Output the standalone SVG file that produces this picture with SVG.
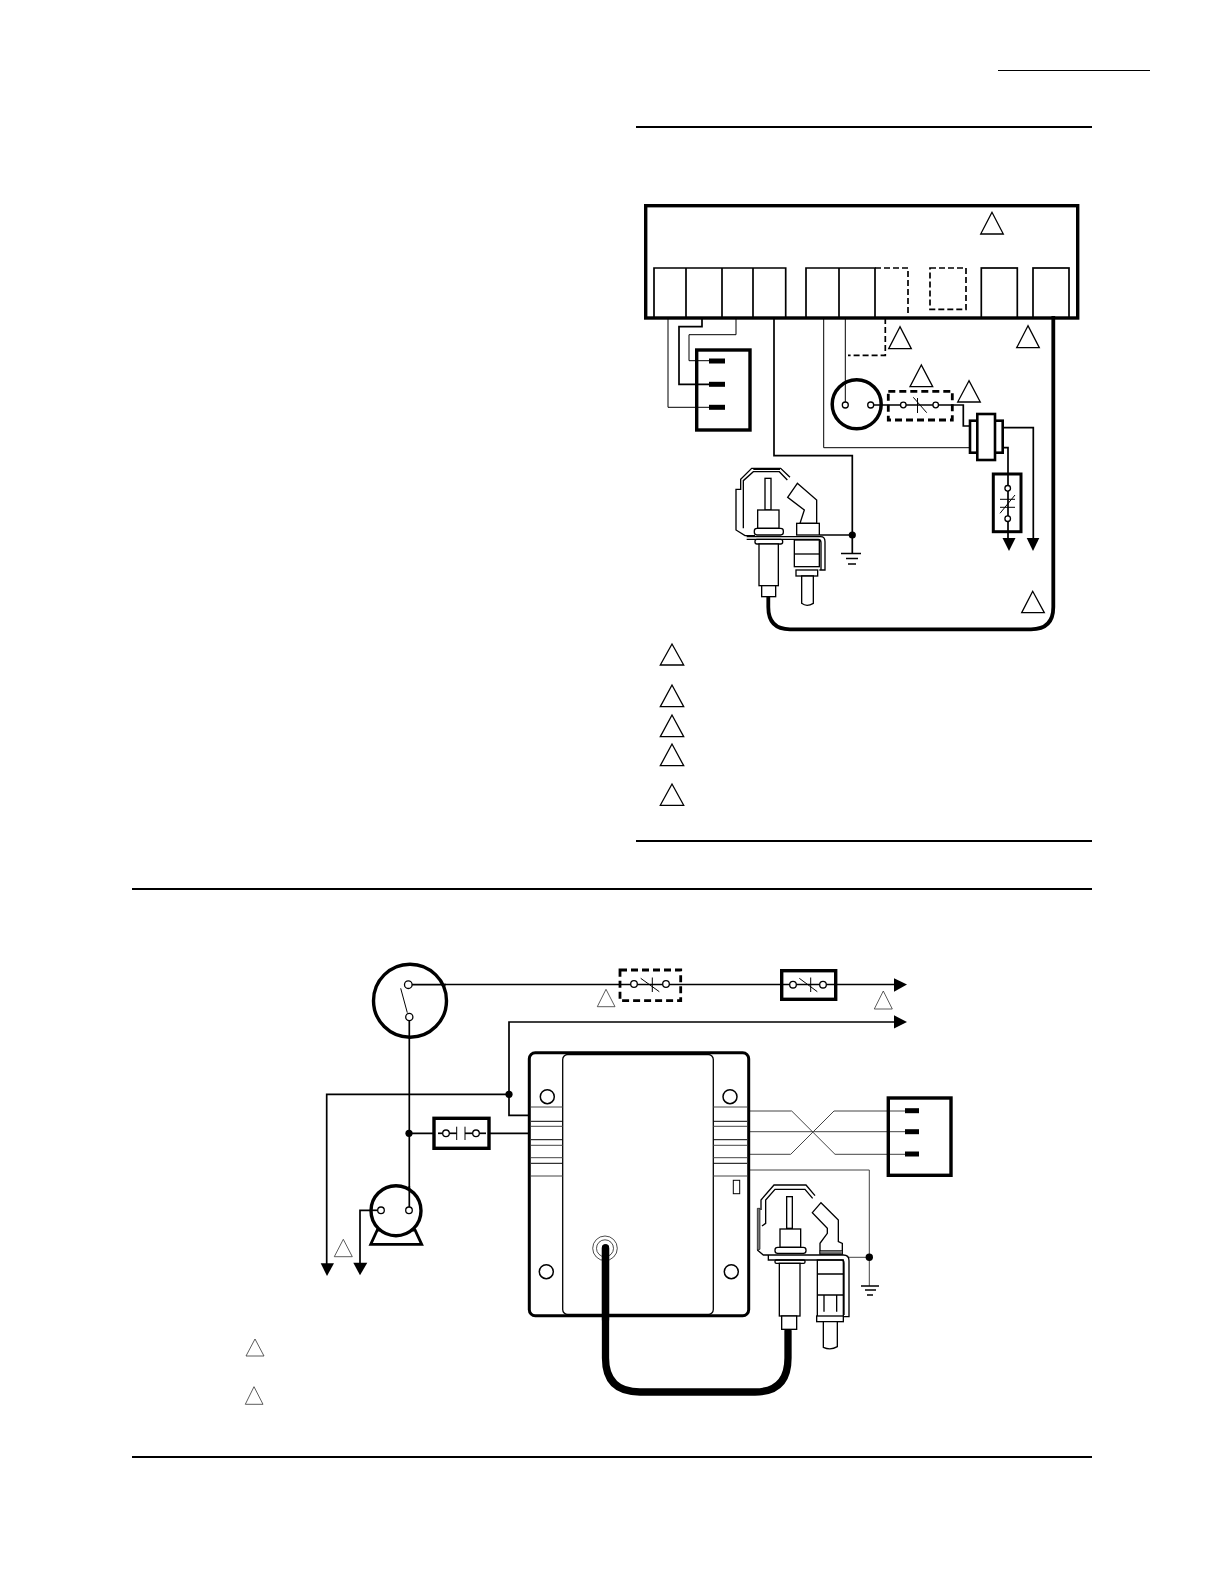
<svg xmlns="http://www.w3.org/2000/svg" width="1224" height="1584" viewBox="0 0 1224 1584">
<style>
.s{fill:none;stroke:#000;stroke-linejoin:miter}
.w{fill:#fff;stroke:#000}
.t{stroke-width:1}
.m{stroke-width:1.7}
.b{stroke-width:3.4}
.g{stroke:#444;stroke-width:1}
.d{stroke-width:2.8;stroke-dasharray:7 4}
.tri{fill:#fff;stroke:#000;stroke-width:1.3}
.tg{fill:#fff;stroke:#333;stroke-width:.8}
.c{fill:#fff;stroke:#000;stroke-width:1.3}
.k{fill:#000;stroke:none}
.z{fill:#fff;stroke:#000;stroke-width:4}
.zl{fill:none;stroke:#000;stroke-width:4}
.zg{fill:#777;stroke:#000;stroke-width:2}
</style>

<g id="page-rules">
<line class="s t" x1="998" y1="70.5" x2="1150" y2="70.5"/>
<line class="s" stroke-width="2" x1="636" y1="127" x2="1092" y2="127"/>
<line class="s" stroke-width="2" x1="636" y1="841" x2="1092" y2="841"/>
<line class="s" stroke-width="2" x1="132" y1="889" x2="1092" y2="889"/>
<line class="s" stroke-width="2" x1="132" y1="1457" x2="1092" y2="1457"/>
</g>

<!-- top diagram connectors -->
<g id="connectors-top">
<path class="s t" d="M668 318V407.3H709"/>
<path class="s m" d="M702 318V326.7H679V384.3H709"/>
<path class="s t" d="M736 318V334.7H689V360.7H709"/>
<path class="s m" d="M774 318V455.7H852.3V553.5"/>
<path class="s t" d="M823.7 318V447.7H972"/>
<path class="s t" d="M845.3 318V405"/>
<path class="s m" stroke-dasharray="6 3" d="M885.3 318V355.3H848"/>
<path class="s m" d="M870.7 405H963.3V426H972"/>
<path class="s m" d="M1001 427.7H1033.3V540"/>
<path class="s m" d="M1001 447.7H1008V540"/>
<path class="s" stroke-width="3.8" d="M1053.3 316V607Q1053.3 629.3 1031 629.3H790Q768.3 629.3 768.3 607V596"/>
<path class="s m" d="M820 535H852.3"/>
<polygon class="k" points="1026.7,538 1039.3,538 1033,551"/>
<polygon class="k" points="1002.5,538 1015.5,538 1009,551"/>
<circle class="k" cx="852.3" cy="535" r="3.6"/>
</g>

<g id="control-top">
<rect class="s b" x="645.7" y="205.7" width="432" height="112.3"/>
<path class="s m" d="M654 318V268H785.7V318M686 268V318M722 268V318M753 268V318M806 318V268H875V318M839 268V318"/>
<path class="s m" stroke-dasharray="6 3" d="M875 268H908V316"/>
<rect class="s m" stroke-dasharray="6 3" x="930" y="268" width="36" height="41.3"/>
<rect class="s m" x="981.3" y="268" width="36" height="50"/>
<rect class="s m" x="1033" y="268" width="36" height="50"/>
</g>

<g id="connector-plug-top">
<rect class="s b" x="696.7" y="350" width="53.3" height="80"/>
<rect class="k" x="709" y="358.5" width="16" height="5"/>
<rect class="k" x="709" y="381.8" width="16" height="5"/>
<rect class="k" x="709" y="404.8" width="16" height="5"/>
</g>

<g id="switch-circle-top">
<circle class="s" stroke-width="3.5" cx="856.7" cy="404.3" r="24.5"/>
<circle class="c" cx="845.3" cy="405" r="3"/>
<circle class="c" cx="870.7" cy="405" r="3"/>
</g>

<g id="limit-dashed-top">
<rect class="s d" x="888.3" y="391.3" width="64" height="28.7"/>
<circle class="c" cx="903.3" cy="405" r="2.8"/>
<circle class="c" cx="935.7" cy="405" r="2.8"/>
<line class="s t" x1="913.3" y1="397.3" x2="926.7" y2="412.7"/>
<line class="s t" x1="917.5" y1="398" x2="917.5" y2="413"/>
</g>

<g id="relay-top">
<rect class="w" stroke-width="2.6" x="970" y="420.7" width="32.7" height="32"/>
<rect class="w" stroke-width="2.6" x="977.3" y="414" width="17.7" height="46"/>
</g>

<g id="limit-top">
<rect class="s" stroke-width="3" x="993.3" y="474" width="27.7" height="57.7"/>
<circle class="c" cx="1007.7" cy="488.3" r="2.8"/>
<circle class="c" cx="1007.7" cy="518.7" r="2.8"/>
<path class="s t" d="M1000 499.3H1015M1000 507.3H1015M1000 513.3L1015 495"/>
</g>

<g id="pilot-top" transform="translate(710 420) scale(.33333)">
<path class="zl" d="M240 172L212 145H125L92 178V208H78V330L105 347H135M232 180L208 155H130L100 182V325"/>
<path class="zl" stroke="#888" d="M130 148H210"/>
<rect class="z" x="165" y="175" width="18" height="95"/>
<rect class="z" x="143" y="270" width="64" height="55"/>
<rect class="z" x="133" y="325" width="87" height="20" rx="8"/>
<rect class="z" x="135" y="358" width="83" height="14" rx="6"/>
<rect class="z" x="147" y="372" width="58" height="125"/>
<rect class="z" x="155" y="497" width="42" height="33"/>
<path class="zl" d="M110 350H332Q345 350 345 365V450H328M110 358H325Q333 358 333 368V448"/>
<path class="z" d="M262 190L233 232L283 270L270 310H320V240Z"/>
<rect class="z" x="260" y="310" width="68" height="35"/>
<rect class="z" x="253" y="360" width="75" height="80"/>
<line class="zl" x1="253" y1="402" x2="328" y2="402"/>
<rect class="z" x="258" y="450" width="65" height="18"/>
<path class="z" d="M275 468V550Q290 562 310 550V468Z"/>
</g>

<g id="ground-top">
<path class="s m" d="M841 553.5H861M846 558.5H858M848 564H856"/>
</g>

<g id="flags-top">
<polygon class="tri" points="992,212.3 980.7,234 1003.3,234"/>
<polygon class="tri" points="900,326.7 888.7,348.7 911.3,348.7"/>
<polygon class="tri" points="1028,325.7 1016.7,347.7 1039.3,347.7"/>
<polygon class="tri" points="921.3,365 910,386.7 932.7,386.7"/>
<polygon class="tri" points="969,380.7 957.7,402 980.3,402"/>
<polygon class="tri" points="1032.7,591.3 1021.7,612.7 1044.3,612.7"/>
</g>

<g id="legend-top">
<polygon class="tri" points="672,644 660.3,665 683.7,665"/>
<polygon class="tri" points="672,685 660.3,706.7 683.7,706.7"/>
<polygon class="tri" points="672,715 660.3,736.7 683.7,736.7"/>
<polygon class="tri" points="672,744 660.3,765.7 683.7,765.7"/>
<polygon class="tri" points="672,784 660.3,805.3 683.7,805.3"/>
</g>

<!-- bottom diagram connectors -->
<g id="connectors-bottom">
<path class="s m" d="M408.3 984.5H896"/>
<path class="s m" d="M528.3 1115.3H509V1022H896"/>
<path class="s m" d="M509 1094.3H326.7V1265"/>
<path class="s m" d="M409.3 1017V1210.3"/>
<path class="s m" d="M381 1210.3H360V1264"/>
<path class="s m" d="M409 1133.3H456.7M465 1133.3H528.3"/>
<path class="s g" d="M750 1111H791.7L835 1154.3H905M750 1131.7H905M750 1154.3H790.7L834 1111H905M750 1170H869.3V1286"/>
<path class="s g" d="M848 1257.3H869.3"/>
<path class="s" stroke-width="7.3" stroke-linecap="round" d="M605.5 1248V1358Q605.5 1392 640 1392H755Q788 1392 788 1358V1331"/>
<polygon class="k" points="894,978.3 907,984.5 894,991.7"/>
<polygon class="k" points="894,1015.3 907,1022 894,1028.5"/>
<polygon class="k" points="320.7,1263.3 334,1263.3 327,1276"/>
<polygon class="k" points="353.3,1262.7 367.3,1262.7 360,1275.3"/>
<circle class="k" cx="509" cy="1094.3" r="3.6"/>
<circle class="k" cx="409" cy="1133.3" r="3.6"/>
<circle class="k" cx="869.3" cy="1257.3" r="3.7"/>
</g>

<g id="pressure-switch">
<circle class="w" stroke-width="3.4" cx="410" cy="1000.7" r="36.5"/>
<line class="s" stroke-width="1.7" x1="408.3" y1="984.7" x2="446" y2="984.7"/>
<line class="s m" x1="409.3" y1="1017" x2="409.3" y2="1038"/>
<line class="s t" x1="400.7" y1="988.3" x2="407.3" y2="1012.7"/>
<circle class="c" cx="408.3" cy="984.7" r="3.8"/>
<circle class="c" cx="409.3" cy="1017" r="3.6"/>
</g>

<g id="limit-dashed-bottom">
<rect class="s d" x="620" y="970" width="60.7" height="30.7"/>
<circle class="c" cx="634" cy="984" r="3.3"/>
<circle class="c" cx="666" cy="984" r="3.3"/>
<path class="s t" d="M640.7 978.3L659.3 991.7M652.3 977.5V992"/>
</g>

<g id="limit-bottom">
<rect class="s b" x="781.7" y="970.7" width="54" height="28.6"/>
<circle class="c" cx="793" cy="984.7" r="3.3"/>
<circle class="c" cx="823" cy="984.7" r="3.3"/>
<path class="s t" d="M799.3 978.3L817.3 991.7M810.7 977.5V992"/>
</g>

<g id="relay-contact">
<rect class="w b" x="434" y="1118.3" width="55" height="30"/>
<line class="s m" x1="438" y1="1133.3" x2="456.7" y2="1133.3"/>
<line class="s m" x1="465" y1="1133.3" x2="486" y2="1133.3"/>
<path class="s t" d="M456.7 1126.7V1140M465 1126.7V1140"/>
<circle class="c" cx="446" cy="1133.3" r="3.3"/>
<circle class="c" cx="476" cy="1133.3" r="3.3"/>
</g>

<g id="motor">
<polygon class="w" stroke-width="2.8" points="377.3,1230 370.7,1244.3 421.7,1244.3 415,1230"/>
<circle class="w b" cx="396" cy="1210.7" r="25"/>
<line class="s m" x1="371" y1="1210.3" x2="381" y2="1210.3"/>
<line class="s m" x1="409.3" y1="1186" x2="409.3" y2="1210"/>
<circle class="c" cx="381" cy="1210.3" r="3.3"/>
<circle class="c" cx="409" cy="1210.3" r="3.3"/>
</g>

<g id="ignition-control">
<rect class="s" stroke-width="3" x="529.3" y="1052.7" width="219.4" height="263" rx="6"/>
<rect class="s" stroke="#333" stroke-width="1.3" x="562.7" y="1054.5" width="150.6" height="260" rx="5"/>
<path class="s g" d="M531 1107H562.7M531 1126.3H562.7M531 1145.3H562.7M531 1157.7H562.7M531 1176H562.7M713.3 1107H747M713.3 1126.3H747M713.3 1145.3H747M713.3 1157.7H747M713.3 1176H747"/>
<path class="s t" d="M531 1121.3H562.7M531 1139.7H562.7M531 1163.3H562.7M713.3 1121.3H747M713.3 1139.7H747M713.3 1163.3H747"/>
<circle class="s" stroke-width="1.5" cx="547.3" cy="1096.7" r="7"/>
<circle class="s" stroke-width="1.5" cx="730" cy="1096.7" r="7"/>
<circle class="s" stroke-width="1.5" cx="546.3" cy="1271.7" r="7"/>
<circle class="s" stroke-width="1.5" cx="731.3" cy="1271.7" r="7"/>
<rect class="s t" x="733.3" y="1180.3" width="6.4" height="13.4"/>
<circle class="s" stroke-width=".7" cx="605" cy="1248.3" r="12.3"/>
<circle class="s" stroke-width=".7" cx="605" cy="1248.3" r="8.5"/>
<path class="s" stroke-width="7.3" stroke-linecap="round" d="M605.5 1248V1320"/>
</g>

<g id="connector-plug-bottom">
<rect class="s b" x="888.3" y="1098" width="62.7" height="77.3"/>
<rect class="k" x="905" y="1108.2" width="14" height="5"/>
<rect class="k" x="905" y="1129.2" width="14" height="5"/>
<rect class="k" x="905" y="1151.5" width="14" height="5"/>
</g>

<g id="pilot-bottom" transform="translate(700 1060) scale(.33333)">
<path class="zl" d="M345 407L318 375H222L183 420V450M338 415L315 388H225L197 420V490L186 498"/>
<path class="zg" d="M172 445H180V568L172 570Z"/>
<rect class="z" x="260" y="410" width="17" height="95"/>
<rect class="z" x="240" y="507" width="62" height="55"/>
<rect class="z" x="225" y="562" width="93" height="18" rx="8"/>
<rect class="z" x="225" y="600" width="90" height="10" rx="4"/>
<rect class="z" x="238" y="610" width="62" height="158"/>
<rect class="z" x="245" y="768" width="45" height="40"/>
<path class="z" d="M363 428L337 458L382 505V520L360 550V582H427V550L415 545V480Z"/>
<rect class="zg" x="360" y="572" width="67" height="10"/>
<rect class="z" x="352" y="600" width="78" height="170"/>
<path class="zl" d="M352 642H430M352 705H430M372 705V755M410 705V755"/>
<rect class="z" x="350" y="768" width="80" height="17"/>
<path class="z" d="M370 785V862Q392 872 412 860V785Z"/>
<path class="zl" d="M172 570L190 585H430Q447 585 447 602V770H430M205 587V600H425Q432 600 432 610V765"/>
</g>

<g id="ground-bottom">
<path class="s m" d="M861 1286H879M865 1290H876M867 1295H873"/>
</g>

<g id="flags-bottom">
<polygon class="tg" points="606,989.3 597.3,1006.7 615,1006.7"/>
<polygon class="tg" points="883.3,991 874.3,1009 892.3,1009"/>
<polygon class="tg" points="343.3,1239.3 334.3,1256.7 352.3,1256.7"/>
</g>

<g id="legend-bottom">
<polygon class="tg" points="255,1339 246,1356 264,1356"/>
<polygon class="tg" points="254,1386.7 245.3,1404.3 263,1404.3"/>
</g>
</svg>
